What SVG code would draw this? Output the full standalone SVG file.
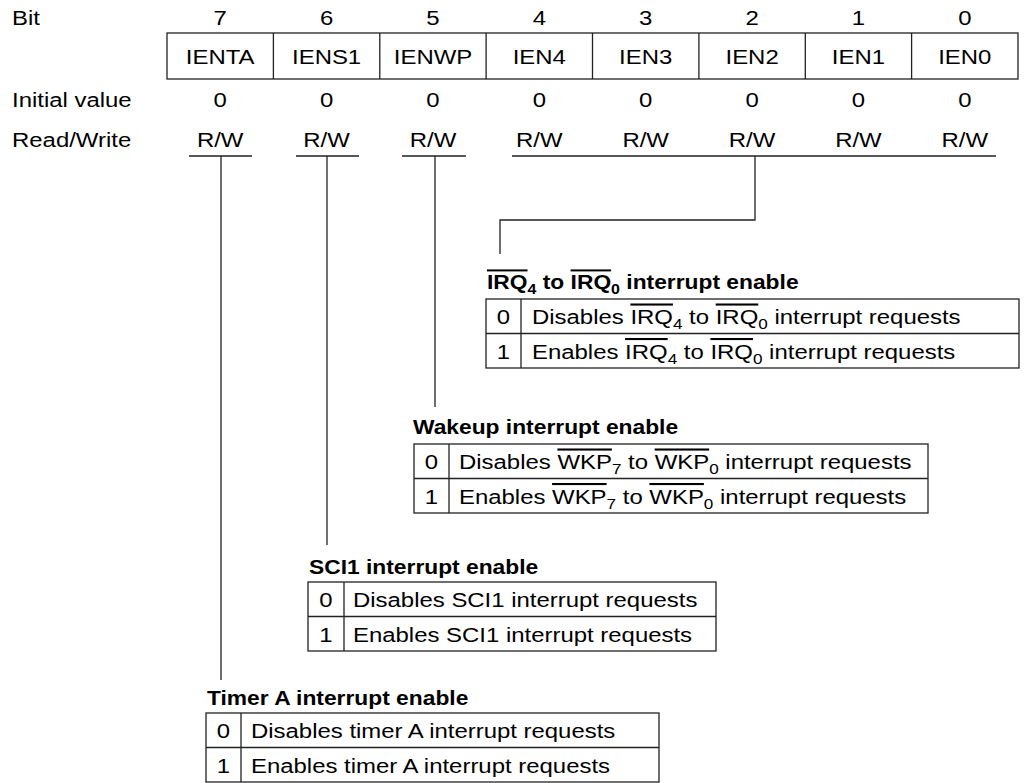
<svg xmlns="http://www.w3.org/2000/svg" width="1024" height="783" viewBox="0 0 1024 783">
<style>
.t{font-family:"Liberation Sans",Arial,Helvetica,sans-serif;font-size:21px;fill:#000}
.b{font-weight:bold;font-size:20px}
.c{text-anchor:middle}
.ol{text-decoration:overline}
.s{font-size:15px}
.sb{font-size:14px}
.ln{stroke:#222;stroke-width:1.3;fill:none}
.box{fill:#fff;stroke:#222;stroke-width:1.3}
</style>
<rect width="1024" height="783" fill="#fff"/>
<g id="register">
<text class="t" transform="translate(12 25) scale(1.14 1)">Bit</text>
<text class="t" transform="translate(12 107) scale(1.14 1)">Initial value</text>
<text class="t" transform="translate(12 147) scale(1.14 1)">Read/Write</text>
<rect class="box" x="167" y="33" width="851" height="46"/>
<path class="ln" d="M273.4 33V79M379.8 33V79M486.1 33V79M592.5 33V79M698.9 33V79M805.3 33V79M911.6 33V79"/>
<g class="t c">
<text transform="translate(220.2 25) scale(1.14 1)">7</text>
<text transform="translate(326.6 25) scale(1.14 1)">6</text>
<text transform="translate(433 25) scale(1.14 1)">5</text>
<text transform="translate(539.3 25) scale(1.14 1)">4</text>
<text transform="translate(645.7 25) scale(1.14 1)">3</text>
<text transform="translate(752.1 25) scale(1.14 1)">2</text>
<text transform="translate(858.4 25) scale(1.14 1)">1</text>
<text transform="translate(964.8 25) scale(1.14 1)">0</text>
<text transform="translate(220.2 64) scale(1.14 1)">IENTA</text>
<text transform="translate(326.6 64) scale(1.14 1)">IENS1</text>
<text transform="translate(433 64) scale(1.14 1)">IENWP</text>
<text transform="translate(539.3 64) scale(1.14 1)">IEN4</text>
<text transform="translate(645.7 64) scale(1.14 1)">IEN3</text>
<text transform="translate(752.1 64) scale(1.14 1)">IEN2</text>
<text transform="translate(858.4 64) scale(1.14 1)">IEN1</text>
<text transform="translate(964.8 64) scale(1.14 1)">IEN0</text>
<text transform="translate(220.2 107) scale(1.14 1)">0</text>
<text transform="translate(326.6 107) scale(1.14 1)">0</text>
<text transform="translate(433 107) scale(1.14 1)">0</text>
<text transform="translate(539.3 107) scale(1.14 1)">0</text>
<text transform="translate(645.7 107) scale(1.14 1)">0</text>
<text transform="translate(752.1 107) scale(1.14 1)">0</text>
<text transform="translate(858.4 107) scale(1.14 1)">0</text>
<text transform="translate(964.8 107) scale(1.14 1)">0</text>
<text transform="translate(220.2 147) scale(1.14 1)">R/W</text>
<text transform="translate(326.6 147) scale(1.14 1)">R/W</text>
<text transform="translate(433 147) scale(1.14 1)">R/W</text>
<text transform="translate(539.3 147) scale(1.14 1)">R/W</text>
<text transform="translate(645.7 147) scale(1.14 1)">R/W</text>
<text transform="translate(752.1 147) scale(1.14 1)">R/W</text>
<text transform="translate(858.4 147) scale(1.14 1)">R/W</text>
<text transform="translate(964.8 147) scale(1.14 1)">R/W</text>
</g>
<path class="ln" d="M189 156H252M296 156H359M402 156H466M512 156H996"/>
</g>
<g id="connectors">
<path class="ln" d="M221 156V680"/>
<path class="ln" d="M327 156V545"/>
<path class="ln" d="M435 156V407"/>
<path class="ln" d="M755 156V220H500V254"/>
</g>
<g id="irq-table">
<text class="t b" transform="translate(487 289) scale(1.14 1)"><tspan class="ol">IRQ</tspan><tspan class="sb" dy="5">4</tspan><tspan dy="-5"> to </tspan><tspan class="ol">IRQ</tspan><tspan class="sb" dy="5">0</tspan><tspan dy="-5"> interrupt enable</tspan></text>
<rect class="box" x="486" y="299" width="533" height="69"/>
<path class="ln" d="M486 333.5H1019M521 299V368"/>
<text class="t c" transform="translate(503.5 324) scale(1.14 1)">0</text>
<text class="t c" transform="translate(503.5 358.5) scale(1.14 1)">1</text>
<text class="t" transform="translate(532 324) scale(1.14 1)">Disables <tspan class="ol">IRQ</tspan><tspan class="s" dy="5">4</tspan><tspan dy="-5"> to </tspan><tspan class="ol">IRQ</tspan><tspan class="s" dy="5">0</tspan><tspan dy="-5"> interrupt requests</tspan></text>
<text class="t" transform="translate(532 358.5) scale(1.14 1)">Enables <tspan class="ol">IRQ</tspan><tspan class="s" dy="5">4</tspan><tspan dy="-5"> to </tspan><tspan class="ol">IRQ</tspan><tspan class="s" dy="5">0</tspan><tspan dy="-5"> interrupt requests</tspan></text>
</g>
<g id="wkp-table">
<text class="t b" transform="translate(413 434) scale(1.14 1)">Wakeup interrupt enable</text>
<rect class="box" x="414" y="444" width="514" height="69"/>
<path class="ln" d="M414 478.5H928M449 444V513"/>
<text class="t c" transform="translate(431.5 469) scale(1.14 1)">0</text>
<text class="t c" transform="translate(431.5 503.5) scale(1.14 1)">1</text>
<text class="t" transform="translate(459 469) scale(1.14 1)">Disables <tspan class="ol">WKP</tspan><tspan class="s" dy="5">7</tspan><tspan dy="-5"> to </tspan><tspan class="ol">WKP</tspan><tspan class="s" dy="5">0</tspan><tspan dy="-5"> interrupt requests</tspan></text>
<text class="t" transform="translate(459 503.5) scale(1.14 1)">Enables <tspan class="ol">WKP</tspan><tspan class="s" dy="5">7</tspan><tspan dy="-5"> to </tspan><tspan class="ol">WKP</tspan><tspan class="s" dy="5">0</tspan><tspan dy="-5"> interrupt requests</tspan></text>
</g>
<g id="sci1-table">
<text class="t b" transform="translate(309 574) scale(1.14 1)">SCI1 interrupt enable</text>
<rect class="box" x="308" y="582" width="408" height="69"/>
<path class="ln" d="M308 616.5H716M344 582V651"/>
<text class="t c" transform="translate(326 607) scale(1.14 1)">0</text>
<text class="t c" transform="translate(326 641.5) scale(1.14 1)">1</text>
<text class="t" transform="translate(353 607) scale(1.14 1)">Disables SCI1 interrupt requests</text>
<text class="t" transform="translate(353 641.5) scale(1.14 1)">Enables SCI1 interrupt requests</text>
</g>
<g id="timera-table">
<text class="t b" transform="translate(207 705) scale(1.14 1)">Timer A interrupt enable</text>
<rect class="box" x="206" y="713" width="453" height="69"/>
<path class="ln" d="M206 747.5H659M241 713V782"/>
<text class="t c" transform="translate(223.5 738) scale(1.14 1)">0</text>
<text class="t c" transform="translate(223.5 772.5) scale(1.14 1)">1</text>
<text class="t" transform="translate(251 738) scale(1.14 1)">Disables timer A interrupt requests</text>
<text class="t" transform="translate(251 772.5) scale(1.14 1)">Enables timer A interrupt requests</text>
</g>
</svg>
